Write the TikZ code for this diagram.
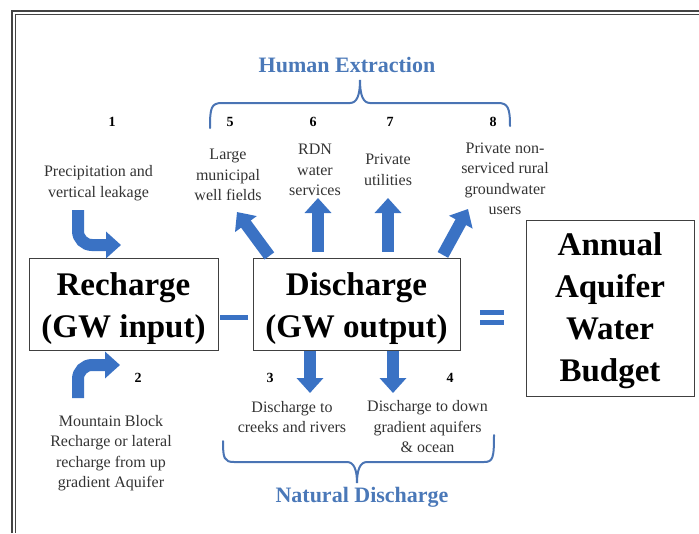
\documentclass[tikz,border=0pt]{standalone}
\usepackage{fontspec}
\setmainfont{Liberation Serif}
\usetikzlibrary{arrows.meta, positioning}
\definecolor{cblue}{HTML}{3A72C4}
\definecolor{ctitle}{HTML}{4A78B8}
\definecolor{cbrace}{HTML}{4A74B4}
\definecolor{cframe}{HTML}{444444}
\definecolor{ctext}{HTML}{333333}
\tikzset{
  every picture/.style={line width=1pt},
  box/.style={draw=black!75, line width=0.9pt, inner sep=0pt},
  big/.style={align=center, inner sep=0pt, font=\fontsize{33}{42}\selectfont\bfseries},
  arrow/.style={-{Triangle[length=15pt, width=26pt]}, draw=cblue, line width=12pt},
  title/.style={font=\fontsize{22}{24}\selectfont\bfseries, text=ctitle},
  note/.style={font=\fontsize{16}{20.5}\selectfont, text=ctext, align=center},
  num/.style={font=\fontsize{14}{16}\selectfont\bfseries},
  brace/.style={draw=cbrace, line width=2pt, line cap=round},
}

\begin{document}
\begin{tikzpicture}[x=1pt, y=-1pt]
  \useasboundingbox (0,0) rectangle (699,533);
  % double frame, cut at the page edges
  \draw[cframe, line width=1.5pt] (12,533) -- (12,11) -- (699,11);
  \draw[cframe, line width=1.2pt] (15.5,533) -- (15.5,14.5) -- (699,14.5);

  % the three boxes
  \node[box, minimum width=189pt, minimum height=92pt] (rec) at (123.5,304) {};
  \node[box, minimum width=207pt, minimum height=92pt] (dis) at (356.5,304) {};
  \node[box, minimum width=168pt, minimum height=176pt] (ann) at (610,308) {};
  \node[big] (rect) at ([yshift=-5pt]rec.center) {Recharge\\(GW input)};
  \node[big] (dist) at ([yshift=-5pt]dis.center) {Discharge\\(GW output)};
  \node[big] (annt) at ([yshift=-3pt]ann.center) {Annual\\Aquifer\\Water\\Budget};
  \fill[cblue] (220,315) rectangle (248,319.5);
  \fill[cblue] (480,310) rectangle (504,315);
  \fill[cblue] (480,320) rectangle (504,325);

  % top: human extraction
  \node[title] (hx) at (347,65) {Human Extraction};
  \draw[brace] (210,128) .. controls (210,108) and (211,103) .. (222,103) -- (350,103)
    .. controls (357,103) and (360,95) .. (360,80) .. controls (360,95) and (363,103) .. (370,103)
    -- (498,103) .. controls (508,103) and (510,108) .. (510,126);
  \foreach \n/\x in {1/112, 5/230, 6/313, 7/390, 8/493}
    \node[num] (n\n) at (\x,122) {\n};
  \node[note] (l1) at (98.5,183) {Precipitation and\\vertical leakage};
  \node[note] (l5) at (228,175) {Large\\municipal\\well fields};
  \node[note] (l6) at (315,170) {RDN\\water\\services};
  \node[note] (l7) at (388,170) {Private\\utilities};
  \node[note] (l8) at (505,179) {Private non-\\serviced rural\\groundwater\\users};

  % bottom: natural discharge
  \node[num] (n2) at (138,378) {2};
  \node[num] (n3) at (270,378) {3};
  \node[num] (n4) at (450,378) {4};
  \node[note] (l2) at (111,453) {Mountain Block\\Recharge or lateral\\recharge from up\\gradient Aquifer};
  \node[note] (l3) at (292,417) {Discharge to\\creeks and rivers};
  \node[note] (l4) at (427.5,427) {Discharge to down\\gradient aquifers\\\& ocean};
  \draw[brace] (223,441) .. controls (223,458) and (224,462) .. (234,462) -- (347,462)
    .. controls (354,462) and (357,470) .. (357,483) .. controls (357,470) and (360,462) .. (367,462)
    -- (484,462) .. controls (493,462) and (494,458) .. (494,435);
  \node[title] (nd) at (362,497) {Natural Discharge};

  % arrow ends
  \coordinate (b1) at (78,210);
  \coordinate (a1) at (121,245);
  \coordinate (b2) at (78,398);
  \coordinate (a2) at (120,365);
  \coordinate (a5) at (237,212);
  \coordinate (a6) at (318,198);
  \coordinate (a7) at (388,198);
  \coordinate (a8) at (468,209);
  \coordinate (a3) at (310,393);
  \coordinate (a4) at (393,393);

  \draw[arrow, rounded corners=14pt] (b1) |- (a1);
  \draw[arrow, rounded corners=14pt] (b2) |- (a2);
  \draw[arrow, shorten <=2pt] ([xshift=18pt]dis.north west) -- (a5);
  \draw[arrow, shorten <=6pt] (dis.north -| a6) -- (a6);
  \draw[arrow, shorten <=6pt] (dis.north -| a7) -- (a7);
  \draw[arrow, shorten <=3pt] ([xshift=-19pt]dis.north east) -- (a8);
  \draw[arrow, shorten <=1pt] (dis.south -| a3) -- (a3);
  \draw[arrow, shorten <=1pt] (dis.south -| a4) -- (a4);
\end{tikzpicture}
\end{document}
